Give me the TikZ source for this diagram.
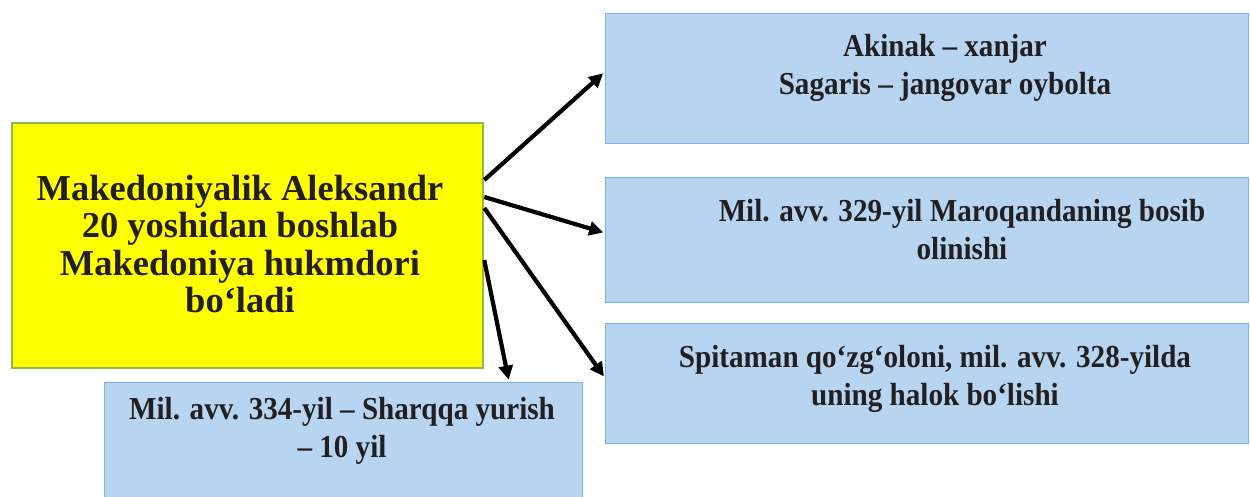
\documentclass[tikz,border=0pt]{standalone}
\usepackage{fontspec}
\setmainfont{Liberation Serif}
\newfontfamily\narrowserif[FakeStretch=0.91]{Liberation Serif}
\usetikzlibrary{arrows.meta,positioning}
\definecolor{BoxYellow}{HTML}{FFFF00}
\definecolor{FrameGreen}{HTML}{8DBB4B}
\definecolor{BoxBlue}{HTML}{B7D5F0}
\definecolor{FrameBlue}{HTML}{80B0E0}
\definecolor{InkBlack}{HTML}{231F20}

\begin{document}
\begin{tikzpicture}[x=1pt, y=-1pt,
  mainbox/.style={draw=FrameGreen, line width=2.5pt, fill=BoxYellow,
                  minimum width=471pt, minimum height=245pt, inner sep=0pt},
  infobox/.style={draw=FrameBlue, line width=0.8pt, fill=BoxBlue,
                  minimum width=643pt, inner sep=0pt},
  maintxt/.style={align=center, text=InkBlack,
                  font=\fontsize{36.5}{37.5}\selectfont\bfseries},
  infotxt/.style={align=center, text=InkBlack,
                  font=\narrowserif\fontsize{32}{38}\selectfont\bfseries},
  pointer/.style={line width=4.2pt, shorten >=2pt,
                  -{Triangle[length=14pt,width=14pt]}}]
  \useasboundingbox (0,0) rectangle (1250,496);
  % boxes
  \node[mainbox] (Y) at (247.5,245.5) {};
  \node[infobox, minimum height=130pt] (A) at (926.5,78) {};
  \node[infobox, minimum height=125pt] (B) at (927,239.5) {};
  \node[infobox, minimum height=120pt] (C) at (927,383) {};
  \node[infobox, minimum width=478pt, minimum height=130pt] (D) at (343,447) {};
  % texts
  \node[maintxt] (Ytxt) at (240,244)
    {Makedoniyalik Aleksandr\\20 yoshidan boshlab\\Makedoniya hukmdori\\bo‘ladi};
  \node[infotxt] (Atxt) at (945,68) {Akinak – xanjar\\Sagaris – jangovar oybolta};
  \node[infotxt] (Btxt) at (962,230) {Mil. avv. 329-yil Maroqandaning bosib\\olinishi};
  \node[infotxt] (Ctxt) at (935,379) {Spitaman qo‘zg‘oloni, mil. avv. 328-yilda\\uning halok bo‘lishi};
  \node[infotxt] (Dtxt) at (342,431) {Mil. avv. 334-yil – Sharqqa yurish\\– 10 yil};
  % arrows
  \draw[pointer] ([yshift=65.5pt]Y.east) -- ([yshift=6pt]A.west);
  \draw[pointer] ([yshift=48.5pt]Y.east) -- ([yshift=6.5pt]B.west);
  \draw[pointer] ([yshift=37.5pt]Y.east) -- ([yshift=5pt]C.west);
  \draw[pointer] ([yshift=-14.5pt]Y.east) -- ([xshift=166pt]D.north);
\end{tikzpicture}
\end{document}
